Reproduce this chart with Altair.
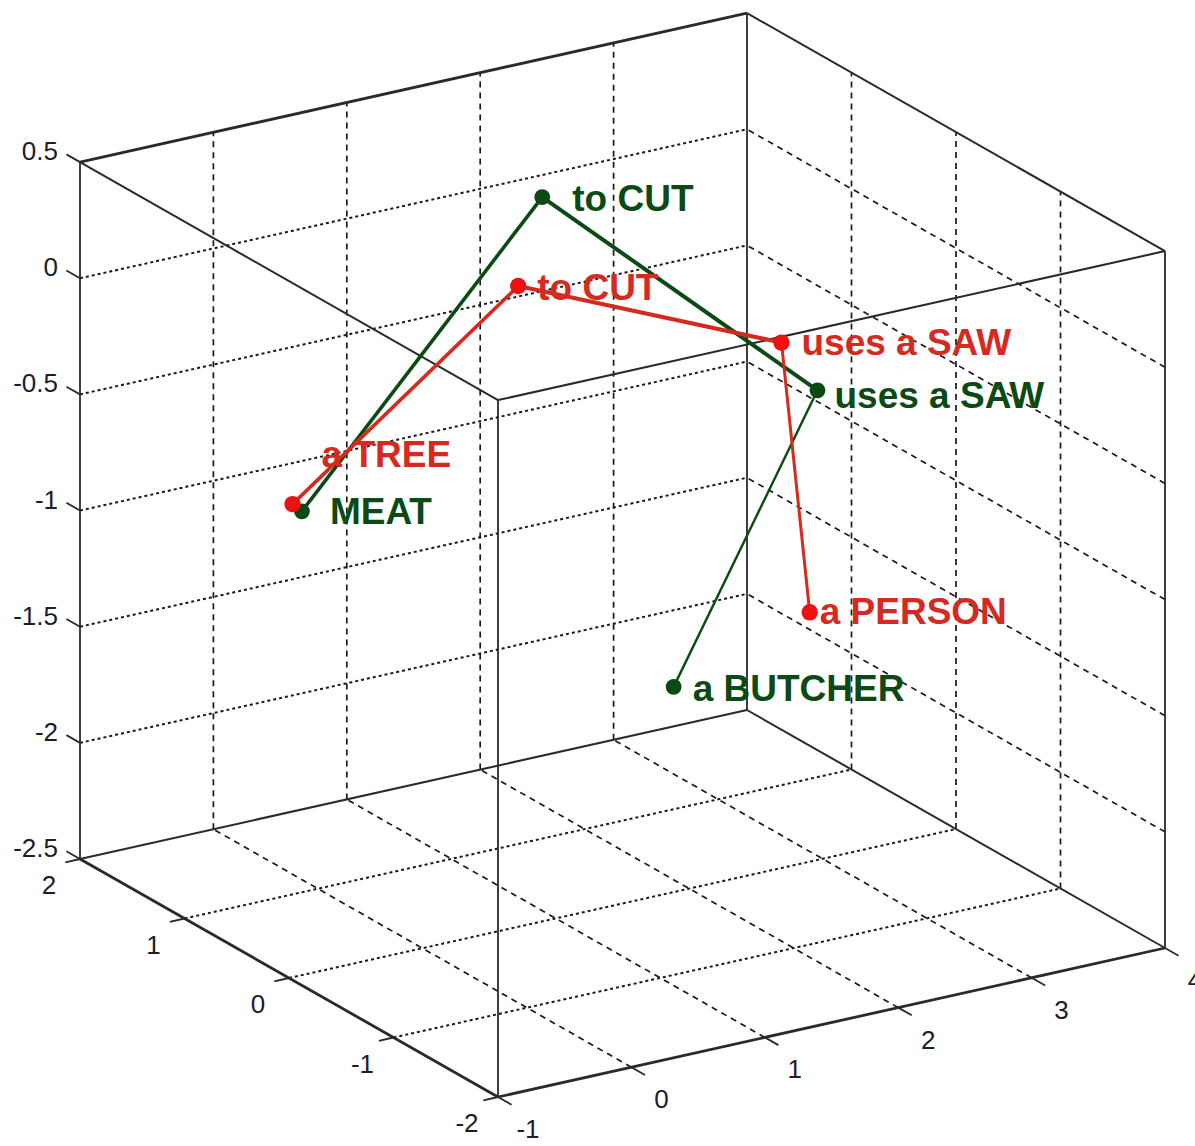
import altair as alt
import pandas as pd

# ---------------- data (3-D coordinates) ----------------
X_TICKS = [-1, 0, 1, 2, 3, 4]
Y_TICKS = [-2, -1, 0, 1, 2]
Z_TICKS = [-2.5, -2, -1.5, -1, -0.5, 0, 0.5]
X_LABELS = ["-1", "0", "1", "2", "3", "4"]
Y_LABELS = ["-2", "-1", "0", "1", "2"]
Z_LABELS = ["-2.5", "-2", "-1.5", "-1", "-0.5", "0", "0.5"]

RED_WORDS = ["a TREE", "to CUT", "uses a SAW", "a PERSON"]
RED_X = [-0.19, 1.11, 2.30, 2.12]
RED_Y = [1.0, 0.5, -0.5, -1.0]
RED_Z = [-0.82, 0.08, -0.06, -1.07]

GREEN_WORDS = ["MEAT", "to CUT", "uses a SAW", "a BUTCHER"]
GREEN_X = [-0.12, 1.29, 2.57, 1.10]
GREEN_Y = [1.0, 0.5, -0.5, -1.0]
GREEN_Z = [-0.86, 0.44, -0.30, -1.26]

# ---------------- view (projection) settings ----------------
XLIM = (X_TICKS[0], X_TICKS[-1])
YLIM = (Y_TICKS[0], Y_TICKS[-1])
ZLIM = (Z_TICKS[0], Z_TICKS[-1])
ORIGIN_PX = (498.0, 1097.0)
EX = (133.4, -29.8)
EY = (-104.5, -59.5)
EZ = (0.0, -232.3)
W, H = 1195, 1146

RED = "#d42a1f"
RED_DOT = "#ec1212"
GREEN = "#0b4a14"
INK = "#1a1a1a"
FONT = "Liberation Sans Narrow, Arial Narrow, Liberation Sans, Arial"


def P(x, y, z):
    dx, dy, dz = x - XLIM[0], y - YLIM[0], z - ZLIM[0]
    u = ORIGIN_PX[0] + EX[0] * dx + EY[0] * dy + EZ[0] * dz
    v = ORIGIN_PX[1] + EX[1] * dx + EY[1] * dy + EZ[1] * dz
    return u, v


def seg(p, q, **kw):
    u, v = P(*p)
    u2, v2 = P(*q)
    d = dict(u=u, v=v, u2=u2, v2=v2)
    d.update(kw)
    return d


x0, x1 = XLIM
y0, y1 = YLIM
z0, z1 = ZLIM

# box edges
edges = []
for y in (y0, y1):
    for z in (z0, z1):
        edges.append(seg((x0, y, z), (x1, y, z), w=2.8 if (y == y0 and z == z0) or (y == y1 and z == z1) else 2.0))
for x in (x0, x1):
    for z in (z0, z1):
        edges.append(seg((x, y0, z), (x, y1, z), w=2.8 if (x == x0 and z == z0) else 2.0))
for x in (x0, x1):
    for y in (y0, y1):
        edges.append(seg((x, y, z0), (x, y, z1), w=1.8))
edges_df = pd.DataFrame(edges)

# grid lines on the back walls and the floor
dashed, dotted = [], []
for xt in X_TICKS[1:-1]:
    dashed.append(seg((xt, y0, z0), (xt, y1, z0)))
    dashed.append(seg((xt, y1, z0), (xt, y1, z1)))
for yt in Y_TICKS[1:-1]:
    dotted.append(seg((x0, yt, z0), (x1, yt, z0)))
    dashed.append(seg((x1, yt, z0), (x1, yt, z1)))
for zt in Z_TICKS[1:-1]:
    dotted.append(seg((x0, y1, zt), (x1, y1, zt)))
    dashed.append(seg((x1, y0, zt), (x1, y1, zt)))
dashed_df = pd.DataFrame(dashed)
dotted_df = pd.DataFrame(dotted)

# tick marks
ticks = []
for xt in X_TICKS:
    ticks.append(seg((xt, y0, z0), (xt, y0 - 0.13, z0)))
for yt in Y_TICKS:
    ticks.append(seg((x0, yt, z0), (x0 - 0.11, yt, z0)))
for zt in Z_TICKS:
    ticks.append(seg((x0, y1, zt), (x0, y1 + 0.13, zt)))
ticks_df = pd.DataFrame(ticks)


def label_df(points, labels):
    rows = []
    for p, t in zip(points, labels):
        u, v = P(*p)
        rows.append(dict(u=u, v=v, t=t))
    return pd.DataFrame(rows)

xlab_df = label_df([(xt, y0, z0) for xt in X_TICKS], X_LABELS)
ylab_df = label_df([(x0, yt, z0) for yt in Y_TICKS], Y_LABELS)
zlab_df = label_df([(x0, y1, zt) for zt in Z_TICKS], Z_LABELS)


def series(xs, ys, zs, words, widths):
    pts = [P(a, b, c) for a, b, c in zip(xs, ys, zs)]
    pts_df = pd.DataFrame(dict(u=[p[0] for p in pts], v=[p[1] for p in pts], t=words))
    segs = []
    for i in range(len(pts) - 1):
        segs.append(dict(u=pts[i][0], v=pts[i][1], u2=pts[i + 1][0], v2=pts[i + 1][1], w=widths[i]))
    return pts_df, pd.DataFrame(segs)

red_pts, red_segs = series(RED_X, RED_Y, RED_Z, RED_WORDS, [3.6, 4.0, 3.0])
green_pts, green_segs = series(GREEN_X, GREEN_Y, GREEN_Z, GREEN_WORDS, [3.6, 4.0, 2.4])

# ---------------- chart ----------------
xs = alt.Scale(domain=[0, W], nice=False, zero=False)
ys = alt.Scale(domain=[0, H], reverse=True, nice=False, zero=False)
X = alt.X("u:Q", scale=xs, axis=None)
Y = alt.Y("v:Q", scale=ys, axis=None)
X2 = alt.X2("u2:Q")
Y2 = alt.Y2("v2:Q")


def rules(df, color, dash=None, width=None):
    kw = dict(color=color)
    if dash is not None:
        kw["strokeDash"] = dash
    if width is not None:
        kw["strokeWidth"] = width
    enc = dict(x=X, y=Y, x2=X2, y2=Y2)
    if width is None:
        enc["size"] = alt.Size("w:Q", scale=None, legend=None)
    return alt.Chart(df).mark_rule(**kw).encode(**enc)


TICK_FONT = dict(font=FONT, fontSize=26, color="#1c1c2a", baseline="middle")

layers = [
    rules(dashed_df, INK, dash=[6, 5], width=1.7),
    rules(dotted_df, INK, dash=[3, 3], width=2.0),
    rules(edges_df, "#2a2a2a"),
    rules(ticks_df, "#2a2a2a", width=1.8),
    alt.Chart(xlab_df).mark_text(align="center", dx=30, dy=33, **TICK_FONT).encode(x=X, y=Y, text="t:N"),
    alt.Chart(ylab_df).mark_text(align="center", dx=-31, dy=27, **TICK_FONT).encode(x=X, y=Y, text="t:N"),
    alt.Chart(zlab_df).mark_text(align="right", dx=-22, dy=-10, **TICK_FONT).encode(x=X, y=Y, text="t:N"),
    rules(green_segs, GREEN),
    rules(red_segs, RED),
    alt.Chart(green_pts).mark_circle(size=250, color=GREEN, opacity=1).encode(x=X, y=Y),
    alt.Chart(red_pts).mark_circle(size=270, color=RED_DOT, opacity=1).encode(x=X, y=Y),
]

# word labels: offsets from their points (pixels)
RED_OFFSETS = [(29, -48), (19, 3), (20, 1), (10, 1)]
GREEN_OFFSETS = [(28, 2), (30, 3), (17, 7), (19, 3)]
for df, offs, col in ((green_pts, GREEN_OFFSETS, GREEN), (red_pts, RED_OFFSETS, RED)):
    for i, (ox, oy) in enumerate(offs):
        layers.append(
            alt.Chart(df.iloc[[i]]).mark_text(font=FONT, fontSize=37, fontWeight="bold", color=col,
                                              align="left", baseline="middle", dx=ox, dy=oy)
            .encode(x=X, y=Y, text="t:N")
        )

chart = (
    alt.layer(*layers)
    .properties(width=W, height=H, padding=0, autosize=alt.AutoSizeParams(type="none"),
                background="white")
    .configure_view(stroke=None)
)

chart.save("out.html", embed_options={"renderer": "svg", "actions": False})
